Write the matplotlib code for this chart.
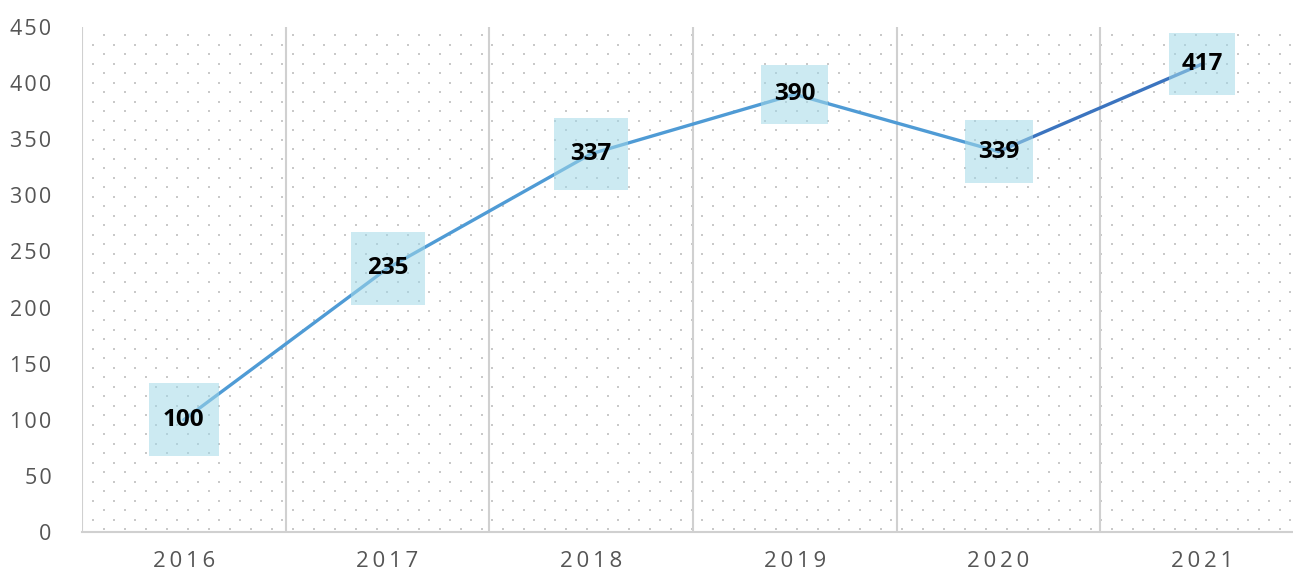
import matplotlib
matplotlib.use("Agg")
import matplotlib.pyplot as plt
import matplotlib.transforms as mtransforms
from matplotlib.patches import Rectangle
import numpy as np

years = ["2016", "2017", "2018", "2019", "2020", "2021"]
values = [100, 235, 337, 390, 339, 417]
y_ticks = [0, 50, 100, 150, 200, 250, 300, 350, 400, 450]

# label box sizes in pixels (w, h) - style only
box_w = [70, 74, 74, 67, 68, 66]
box_h = [73, 73, 72, 59, 63, 62]

W, H = 1293, 573
fig = plt.figure(figsize=(W / 100, H / 100), dpi=100)
plt.rcParams['font.family'] = ['Open Sans', 'DejaVu Sans']

# plot area in pixels
left, right, top, bottom = 82, 1304, 27, 532
ax = fig.add_axes([left / W, (H - bottom) / H, (right - left) / W, (bottom - top) / H])

x = np.arange(len(years))
ax.set_xlim(-0.5, len(years) - 0.5)
ax.set_ylim(0, 450)

# dotted background pattern (staggered)
pw, ph = right - left, bottom - top
pts_x, pts_y = [], []
row = 0
yy = 8.3
while yy < ph:
    off = 10.5 if row % 2 == 0 else 0.0
    xx = 11.3 + off
    while xx < pw:
        pts_x.append(xx / pw)
        pts_y.append(1 - yy / ph)
        xx += 21
    yy += 9.5
    row += 1
ax.scatter(pts_x, pts_y, s=2.2, marker='s', color='#c9c9c9', linewidths=0,
           transform=ax.transAxes, zorder=0)

# category separators
for b in np.arange(-0.5, len(years), 1.0):
    ax.axvline(b, color='#d0d0d0', lw=1.5, zorder=1)

# line
ax.plot(x[:5], values[:5], color='#4f9bd5', lw=2.4, solid_capstyle='round', zorder=3)
ax.plot(x[4:], values[4:], color='#3b74bf', lw=2.4, solid_capstyle='round', zorder=3)

# light boxes behind labels (semi transparent over the line)
for xi, v, bw, bh in zip(x, values, box_w, box_h):
    tr = fig.dpi_scale_trans + mtransforms.ScaledTranslation(xi, v, ax.transData)
    ax.add_patch(Rectangle((-bw / 200, -bh / 200), bw / 100, bh / 100, transform=tr,
                           facecolor='#a2d9e9', edgecolor='none', alpha=0.55,
                           zorder=4, clip_on=False))

# data labels
for xi, v in zip(x, values):
    ax.text(xi, v, str(v), ha='center', va='center', fontsize=17.5, fontweight='bold',
            color='black', zorder=5)

ax.set_xticks(x)
ax.set_xticklabels(["\u2009".join(y) for y in years])
ax.set_yticks(y_ticks)
ax.set_yticklabels(["\u200a".join(str(t)) for t in y_ticks])
ax.tick_params(axis='x', length=0, pad=14, labelsize=16, labelcolor='#555555')
ax.tick_params(axis='y', length=0, pad=22, labelsize=15.5, labelcolor='#555555')

for s in ['top', 'right', 'left']:
    ax.spines[s].set_visible(False)
ax.spines['bottom'].set_color('#d0d0d0')
ax.spines['bottom'].set_linewidth(1.5)

fig.savefig("out.png", dpi=100)
